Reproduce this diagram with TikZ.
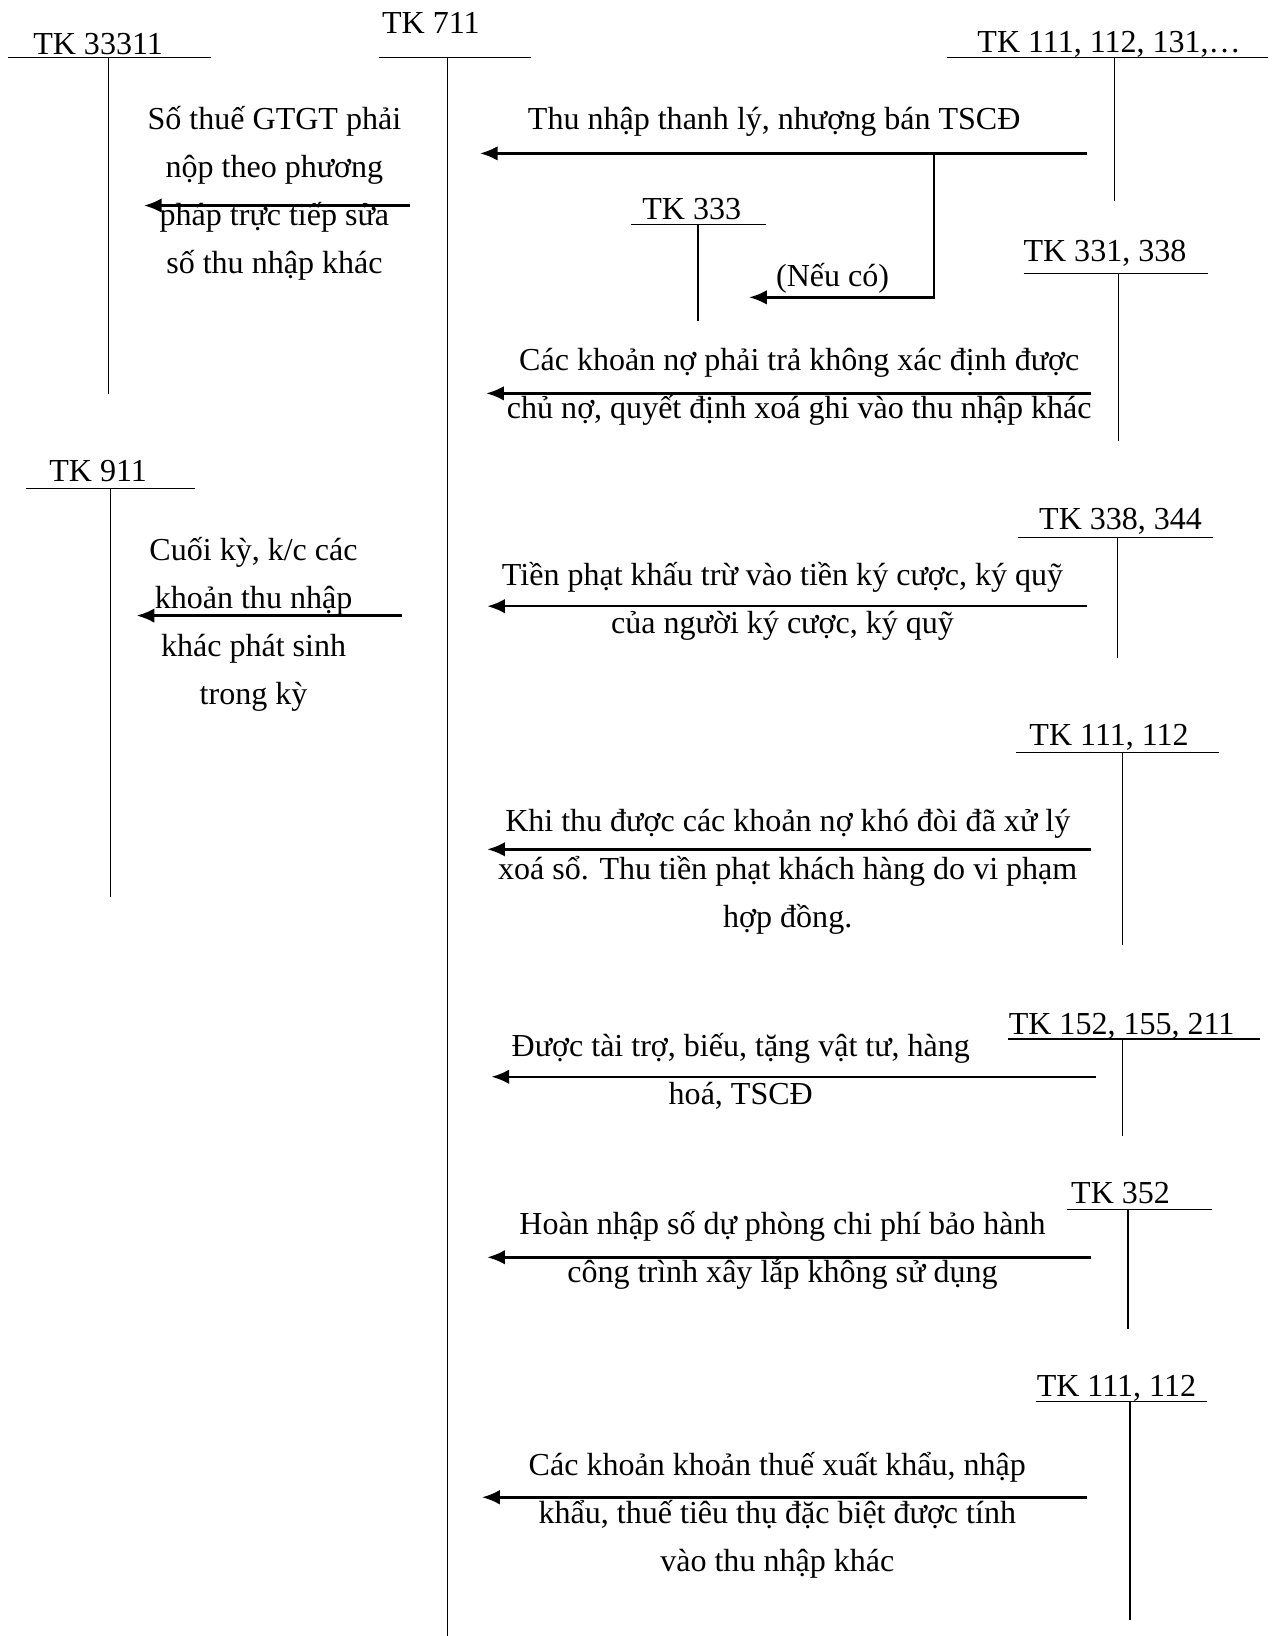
\documentclass[tikz,border=0pt]{standalone}
\usepackage{fontspec}
\setmainfont{Liberation Serif}
\usetikzlibrary{arrows.meta}
\begin{document}
\begin{tikzpicture}[x=1pt,y=-1pt,
  tline/.style={line width=1.4pt},
  arr/.style={line width=2.4pt,-{Latex[length=17pt,width=14pt]}},
  txt/.style={font=\fontsize{30.7}{46}\selectfont, align=center, inner sep=0pt}]
\useasboundingbox (0,0) rectangle (1224,1568);

% ---------- T-accounts ----------
% TK 33311
\coordinate (a1L) at (8,55); \coordinate (a1R) at (202,55);
\coordinate (a1T) at (104,55); \coordinate (a1B) at (104,378);
\draw[tline] (a1L) -- (a1R); \draw[tline] (a1T) -- (a1B);
\node[txt] (l1) at (94,43) {\strut TK 33311};
% TK 711
\coordinate (a2L) at (363,55); \coordinate (a2R) at (509,55);
\coordinate (a2T) at (429,55); \coordinate (a2B) at (429,1568);
\draw[tline] (a2L) -- (a2R); \draw[tline] (a2T) -- (a2B);
\node[txt] (l2) at (413,23) {\strut TK 711};
% TK 111, 112, 131,...
\coordinate (a3L) at (908,55); \coordinate (a3R) at (1215,55);
\coordinate (a3T) at (1068,55); \coordinate (a3B) at (1068,193);
\draw[tline] (a3L) -- (a3R); \draw[tline] (a3T) -- (a3B);
\node[txt] (l3) at (1063,41) {\strut TK 111, 112, 131,\ldots};
% TK 333
\coordinate (a4L) at (605,215); \coordinate (a4R) at (734,215);
\coordinate (a4T) at (669,215); \coordinate (a4B) at (669,308);
\draw[tline] (a4L) -- (a4R); \draw[tline] (a4T) -- (a4B);
\node[txt] (l4) at (663,201) {\strut TK 333};
% TK 331, 338
\coordinate (a5L) at (981,262); \coordinate (a5R) at (1158,262);
\coordinate (a5T) at (1072,262); \coordinate (a5B) at (1072,423);
\draw[tline] (a5L) -- (a5R); \draw[tline] (a5T) -- (a5B);
\node[txt] (l5) at (1059,241) {\strut TK 331, 338};
% TK 911
\coordinate (a6L) at (25,468); \coordinate (a6R) at (187,468);
\coordinate (a6T) at (106,468); \coordinate (a6B) at (106,860);
\draw[tline] (a6L) -- (a6R); \draw[tline] (a6T) -- (a6B);
\node[txt] (l6) at (94,452) {\strut TK 911};
% TK 338, 344
\coordinate (a7L) at (976,515); \coordinate (a7R) at (1163,515);
\coordinate (a7T) at (1071,515); \coordinate (a7B) at (1071,631);
\draw[tline] (a7L) -- (a7R); \draw[tline] (a7T) -- (a7B);
\node[txt] (l7) at (1074,498) {\strut TK 338, 344};
% TK 111, 112 (1)
\coordinate (a8L) at (974,721); \coordinate (a8R) at (1168,721);
\coordinate (a8T) at (1076,721); \coordinate (a8B) at (1076,906);
\draw[tline] (a8L) -- (a8R); \draw[tline] (a8T) -- (a8B);
\node[txt] (l8) at (1063,705) {\strut TK 111, 112};
% TK 152, 155, 211
\coordinate (a9L) at (966,996); \coordinate (a9R) at (1208,996);
\coordinate (a9T) at (1076,996); \coordinate (a9B) at (1076,1089);
\draw[tline] (a9L) -- (a9R); \draw[tline] (a9T) -- (a9B);
\node[txt] (l9) at (1075,982) {\strut TK 152, 155, 211};
% TK 352
\coordinate (a10L) at (1023,1159); \coordinate (a10R) at (1162,1159);
\coordinate (a10T) at (1081,1159); \coordinate (a10B) at (1081,1274);
\draw[tline] (a10L) -- (a10R); \draw[tline] (a10T) -- (a10B);
\node[txt] (l10) at (1074,1144) {\strut TK 352};
% TK 111, 112 (2)
\coordinate (a11L) at (993,1343); \coordinate (a11R) at (1157,1343);
\coordinate (a11T) at (1083,1343); \coordinate (a11B) at (1083,1553);
\draw[tline] (a11L) -- (a11R); \draw[tline] (a11T) -- (a11B);
\node[txt] (l11) at (1070,1329) {\strut TK 111, 112};

% ---------- Arrows ----------
\coordinate (s1) at (393,197); \coordinate (e1) at (138,197);
\draw[arr] (s1) -- (e1);
\node[txt] (t1) at (263,184) {\strut Số thuế GTGT phải\\\strut nộp theo phương\\\strut pháp trực tiếp sửa\\\strut số thu nhập khác};

\coordinate (s2) at (1042,147); \coordinate (e2) at (460,147);
\draw[arr] (s2) -- (e2);
\node[txt] (t2) at (742,115) {\strut Thu nhập thanh lý, nhượng bán TSCĐ};
\coordinate (b2) at (895,147); \coordinate (c2) at (895,285); \coordinate (e2b) at (718,285);
\draw[arr] (b2) -- (c2) -- (e2b);
\node[txt] (t2b) at (798,265) {\strut (Nếu có)};

\coordinate (s3) at (1046,377); \coordinate (e3) at (466,377);
\draw[arr] (s3) -- (e3);
\node[txt] (t3) at (766,368.5) {\strut Các khoản nợ phải trả không xác định được\\\strut chủ nợ, quyết định xoá ghi vào thu nhập khác};

\coordinate (s4) at (385,590); \coordinate (e4) at (131,590);
\draw[arr] (s4) -- (e4);
\node[txt] (t4) at (243,597) {\strut Cuối kỳ, k/c các\\\strut khoản thu nhập\\\strut khác phát sinh\\\strut trong kỳ};

\coordinate (s5) at (1042,581); \coordinate (e5) at (467,581);
\draw[arr] (s5) -- (e5);
\node[txt] (t5) at (750,575) {\strut Tiền phạt khấu trừ vào tiền ký cược, ký quỹ\\\strut của người ký cược, ký quỹ};

\coordinate (s6) at (1046,814); \coordinate (e6) at (467,814);
\draw[arr] (s6) -- (e6);
\node[txt] (t6) at (755,834) {\strut Khi thu được các khoản nợ khó đòi đã xử lý\\\strut xoá sổ. Thu tiền phạt khách hàng do vi phạm\\\strut hợp đồng.};

\coordinate (s7) at (1050,1032); \coordinate (e7) at (471,1032);
\draw[arr] (s7) -- (e7);
\node[txt] (t7) at (710,1026) {\strut Được tài trợ, biếu, tặng vật tư, hàng\\\strut hoá, TSCĐ};

\coordinate (s8) at (1046,1205); \coordinate (e8) at (467,1205);
\draw[arr] (s8) -- (e8);
\node[txt] (t8) at (750,1196.5) {\strut Hoàn nhập số dự phòng chi phí bảo hành\\\strut công trình xây lắp không sử dụng};

\coordinate (s9) at (1042,1435); \coordinate (e9) at (462,1435);
\draw[arr] (s9) -- (e9);
\node[txt] (t9) at (745,1451) {\strut Các khoản khoản thuế xuất khẩu, nhập\\\strut khẩu, thuế tiêu thụ đặc biệt được tính\\\strut vào thu nhập khác};
\end{tikzpicture}
\end{document}
